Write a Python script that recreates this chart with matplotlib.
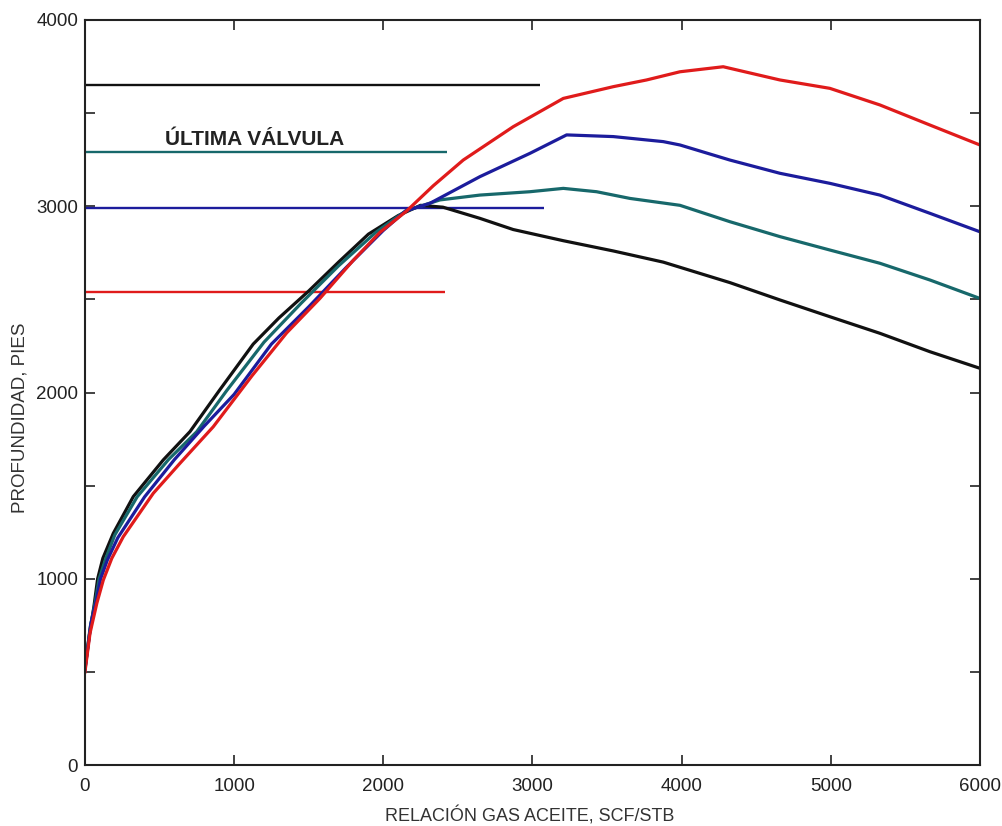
import matplotlib
matplotlib.use('Agg')

import numpy as np
import matplotlib.pyplot as plt
from matplotlib.ticker import MultipleLocator

plt.rcParams['font.family'] = ['Liberation Sans', 'DejaVu Sans']

# curvas de profundidad vs RGA
black_x = [0, 30, 60, 85, 120, 190, 324, 525, 704, 900, 1128, 1300, 1500, 1700, 1900, 2100,
           2250, 2400, 2648, 2871, 3207, 3542, 3877, 4324, 4659, 4994, 5329, 5665, 6000]
black_y = [520, 700, 850, 1000, 1110, 1244, 1441, 1638, 1790, 2010, 2260, 2400, 2545, 2700, 2850, 2950,
           3005, 2995, 2935, 2875, 2815, 2760, 2700, 2590, 2497, 2407, 2318, 2219, 2130]

teal_x = [0, 35, 70, 95, 140, 200, 350, 560, 750, 950, 1200, 1450, 1700, 1950, 2150, 2380, 2648,
          2983, 3207, 3430, 3654, 3989, 4324, 4659, 4994, 5329, 5665, 6000]
teal_y = [515, 740, 880, 1000, 1110, 1235, 1440, 1640, 1790, 2010, 2270, 2480, 2680, 2860, 2975, 3034, 3060,
          3078, 3096, 3078, 3042, 3005, 2917, 2837, 2765, 2694, 2604, 2505]

blue_x = [0, 40, 75, 105, 150, 220, 400, 600, 800, 1000, 1250, 1500, 1750, 2000, 2150, 2313, 2648,
          2983, 3229, 3542, 3877, 3989, 4324, 4659, 4994, 5329, 5665, 6000]
blue_y = [510, 760, 880, 1000, 1100, 1220, 1440, 1640, 1820, 1990, 2260, 2460, 2670, 2870, 2975, 3016, 3159,
          3284, 3383, 3374, 3347, 3329, 3248, 3177, 3123, 3060, 2962, 2863]

red_x = [0, 34, 80, 123, 180, 257, 458, 637, 860, 1120, 1352, 1575, 1799, 1978, 2157, 2335, 2536,
         2871, 3207, 3542, 3765, 3989, 4279, 4659, 4994, 5329, 5665, 6000]
red_y = [500, 708, 870, 993, 1110, 1226, 1459, 1620, 1816, 2090, 2320, 2505, 2710, 2860, 2975, 3110, 3248,
         3427, 3579, 3642, 3678, 3722, 3749, 3678, 3633, 3544, 3436, 3329]

# profundidad de valvulas (lineas horizontales): nivel, RGA final
valve_depths = [3650, 3290, 2990, 2540]
valve_ends = [3050, 2430, 3080, 2415]

c_black = '#111111'
c_teal = '#17686b'
c_blue = '#1c1c9c'
c_red = '#e01b1b'
colors = [c_black, c_teal, c_blue, c_red]

fig = plt.figure(figsize=(10.03, 8.26), dpi=100)
ax = fig.add_axes([0.0847, 0.0738, 0.8923, 0.902])

for depth, end, col in zip(valve_depths, valve_ends, colors):
    ax.plot([0, end], [depth, depth], color=col, lw=1.7, solid_capstyle='butt')

ax.plot(black_x, black_y, color=c_black, lw=2.3)
ax.plot(teal_x, teal_y, color=c_teal, lw=2.3)
ax.plot(blue_x, blue_y, color=c_blue, lw=2.3)
ax.plot(red_x, red_y, color=c_red, lw=2.3)

ax.text(536, 3305, "ÚLTIMA VÁLVULA", fontsize=15, fontweight='bold', color='#222222',
        ha='left', va='bottom')

ax.set_xlim(0, 6000)
ax.set_ylim(0, 4000)
ax.xaxis.set_major_locator(MultipleLocator(1000))
ax.yaxis.set_major_locator(MultipleLocator(1000))
ax.yaxis.set_minor_locator(MultipleLocator(500))
ax.tick_params(which='both', direction='in', top=True, right=True, length=7, width=1.2,
               labelsize=13.5, colors='#222222')
ax.tick_params(axis='x', pad=9)
ax.tick_params(axis='y', pad=5)
for s in ax.spines.values():
    s.set_linewidth(1.5)
    s.set_color('#222222')

ax.set_xlabel("RELACIÓN GAS ACEITE, SCF/STB", fontsize=13, color='#333333')
ax.set_ylabel("PROFUNDIDAD, PIES", fontsize=13.5, color='#333333')
ax.xaxis.set_label_coords(0.497, -0.056)
ax.yaxis.set_label_coords(-0.063, 0.466)

plt.savefig("out.png", dpi=100)
plt.close()
